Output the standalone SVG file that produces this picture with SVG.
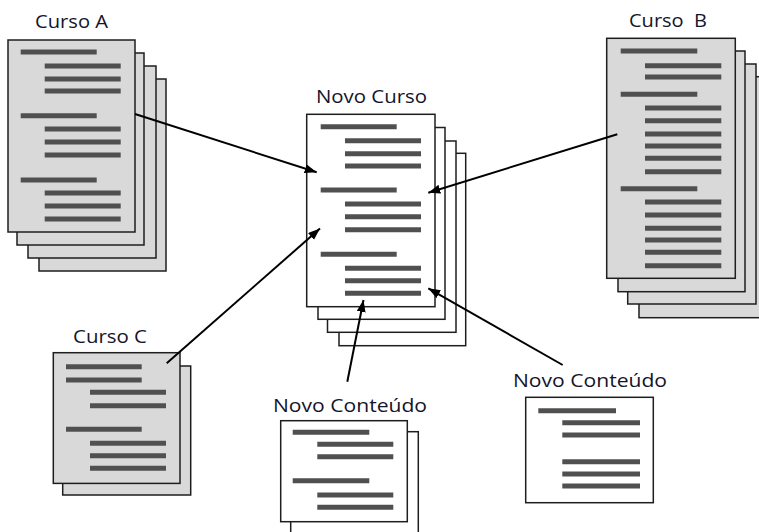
<svg xmlns="http://www.w3.org/2000/svg" width="759" height="532" viewBox="0 0 759 532">
  <style>
    .pg { fill: #d9d9d9; stroke: #1e1e1e; stroke-width: 1.5; }
    .pw { fill: #ffffff; stroke: #1e1e1e; stroke-width: 1.5; }
    .bar { stroke: #505050; stroke-width: 5; }
    .lbl { font-family: "Open Sans", "DejaVu Sans", sans-serif; font-size: 18.5px; fill: #14142a; }
    .arr { stroke: #000; stroke-width: 2; fill: none; marker-end: url(#tip); }
  </style>
  <defs>
    <marker id="tip" markerUnits="userSpaceOnUse" markerWidth="13" markerHeight="10" refX="12" refY="4.5" orient="auto">
      <path d="M0,0 L12,4.5 L0,9 z" fill="#000"/>
    </marker>
  </defs>
  <rect width="759" height="532" fill="#ffffff"/>

  <!-- Curso A: stack of four pages -->
  <g id="curso-a">
    <text class="lbl" x="35" y="28" textLength="73" lengthAdjust="spacingAndGlyphs">Curso A</text>
    <rect class="pg" x="39" y="79" width="127" height="192"/>
    <rect class="pg" x="28" y="66" width="128" height="192"/>
    <rect class="pg" x="17" y="53" width="127" height="192"/>
    <rect class="pg" x="8" y="40" width="127" height="192"/>
    <line class="bar" x1="20.7" y1="52" x2="96.7" y2="52"/>
    <line class="bar" x1="44.7" y1="66" x2="120.7" y2="66"/>
    <line class="bar" x1="44.7" y1="79" x2="120.7" y2="79"/>
    <line class="bar" x1="44.7" y1="91" x2="120.7" y2="91"/>
    <line class="bar" x1="20.7" y1="115.7" x2="96.7" y2="115.7"/>
    <line class="bar" x1="44.7" y1="129" x2="120.7" y2="129"/>
    <line class="bar" x1="44.7" y1="142" x2="120.7" y2="142"/>
    <line class="bar" x1="44.7" y1="155" x2="120.7" y2="155"/>
    <line class="bar" x1="20.7" y1="180" x2="96.7" y2="180" stroke-width="4"/>
    <line class="bar" x1="44.7" y1="193" x2="120.7" y2="193"/>
    <line class="bar" x1="44.7" y1="206" x2="120.7" y2="206"/>
    <line class="bar" x1="44.7" y1="219" x2="120.7" y2="219"/>
  </g>

  <!-- Curso B: stack of four tall pages -->
  <g id="curso-b">
    <text class="lbl" x="629" y="27" xml:space="preserve" textLength="78" lengthAdjust="spacingAndGlyphs">Curso  B</text>
    <rect class="pg" x="639" y="76.7" width="128" height="241"/>
    <rect class="pg" x="627.7" y="64" width="128.3" height="240"/>
    <rect class="pg" x="618" y="51" width="127" height="240.7"/>
    <rect class="pg" x="606.7" y="38.3" width="128.6" height="240"/>
    <line class="bar" x1="620.7" y1="51" x2="697.3" y2="51"/>
    <line class="bar" x1="645" y1="65.7" x2="721.3" y2="65.7"/>
    <line class="bar" x1="645" y1="77" x2="721.3" y2="77"/>
    <line class="bar" x1="620.7" y1="94.3" x2="697.3" y2="94.3"/>
    <line class="bar" x1="645" y1="108" x2="721.3" y2="108"/>
    <line class="bar" x1="645" y1="120.7" x2="721.3" y2="120.7"/>
    <line class="bar" x1="645" y1="134" x2="721.3" y2="134"/>
    <line class="bar" x1="645" y1="146" x2="721.3" y2="146"/>
    <line class="bar" x1="645" y1="158.3" x2="721.3" y2="158.3"/>
    <line class="bar" x1="645" y1="171.7" x2="721.3" y2="171.7"/>
    <line class="bar" x1="620.7" y1="188.7" x2="697.3" y2="188.7"/>
    <line class="bar" x1="645" y1="202" x2="721.3" y2="202"/>
    <line class="bar" x1="645" y1="215" x2="721.3" y2="215"/>
    <line class="bar" x1="645" y1="228.3" x2="721.3" y2="228.3"/>
    <line class="bar" x1="645" y1="240" x2="721.3" y2="240"/>
    <line class="bar" x1="645" y1="252.3" x2="721.3" y2="252.3"/>
    <line class="bar" x1="645" y1="265.7" x2="721.3" y2="265.7"/>
  </g>

  <!-- Novo Curso: stack of four white pages -->
  <g id="novo-curso">
    <text class="lbl" x="316" y="103" textLength="111" lengthAdjust="spacingAndGlyphs">Novo Curso</text>
    <rect class="pw" x="339" y="153.3" width="126.7" height="192.4"/>
    <rect class="pw" x="327.5" y="141" width="128.5" height="191.3"/>
    <rect class="pw" x="318" y="127.5" width="127" height="191.8"/>
    <rect class="pw" x="306.7" y="114.3" width="128.3" height="192.4"/>
    <line class="bar" x1="320.7" y1="126.7" x2="396.7" y2="126.7"/>
    <line class="bar" x1="345" y1="140.7" x2="421" y2="140.7"/>
    <line class="bar" x1="345" y1="153.7" x2="421" y2="153.7"/>
    <line class="bar" x1="345" y1="166" x2="421" y2="166"/>
    <line class="bar" x1="320.7" y1="190" x2="396.7" y2="190"/>
    <line class="bar" x1="345" y1="204" x2="421" y2="204"/>
    <line class="bar" x1="345" y1="216.7" x2="421" y2="216.7"/>
    <line class="bar" x1="345" y1="229.7" x2="421" y2="229.7"/>
    <line class="bar" x1="320.7" y1="254.3" x2="396.7" y2="254.3" stroke-width="4"/>
    <line class="bar" x1="345" y1="268.3" x2="421" y2="268.3"/>
    <line class="bar" x1="345" y1="280.7" x2="421" y2="280.7"/>
    <line class="bar" x1="345" y1="293.3" x2="421" y2="293.3"/>
  </g>

  <!-- Curso C: two pages -->
  <g id="curso-c">
    <text class="lbl" x="73" y="343" textLength="74" lengthAdjust="spacingAndGlyphs">Curso C</text>
    <rect class="pg" x="62.7" y="366" width="128" height="129"/>
    <rect class="pg" x="53.3" y="352.7" width="126.7" height="130.7"/>
    <line class="bar" x1="66" y1="366.7" x2="141.7" y2="366.7"/>
    <line class="bar" x1="66" y1="380" x2="141.7" y2="380"/>
    <line class="bar" x1="90" y1="392.3" x2="166" y2="392.3"/>
    <line class="bar" x1="90" y1="405.7" x2="166" y2="405.7"/>
    <line class="bar" x1="66" y1="429.3" x2="141.7" y2="429.3"/>
    <line class="bar" x1="90" y1="443.3" x2="166" y2="443.3"/>
    <line class="bar" x1="90" y1="455.7" x2="166" y2="455.7"/>
    <line class="bar" x1="90" y1="468.3" x2="166" y2="468.3"/>
  </g>

  <!-- Novo Conteúdo (bottom): two pages -->
  <g id="novo-conteudo-1">
    <text class="lbl" x="273" y="412" textLength="154" lengthAdjust="spacingAndGlyphs">Novo Conteúdo</text>
    <rect class="pw" x="290.7" y="431.7" width="127.6" height="120"/>
    <rect class="pw" x="280.7" y="420.7" width="126.6" height="101"/>
    <line class="bar" x1="292.7" y1="432.3" x2="369.3" y2="432.3"/>
    <line class="bar" x1="317.3" y1="444.3" x2="393.3" y2="444.3"/>
    <line class="bar" x1="317.3" y1="456.7" x2="393.3" y2="456.7"/>
    <line class="bar" x1="292.7" y1="480.7" x2="369.3" y2="480.7"/>
    <line class="bar" x1="317.3" y1="495" x2="393.3" y2="495"/>
    <line class="bar" x1="317.3" y1="507.3" x2="393.3" y2="507.3"/>
  </g>

  <!-- Novo Conteúdo (right): single page -->
  <g id="novo-conteudo-2">
    <text class="lbl" x="513" y="387" textLength="154" lengthAdjust="spacingAndGlyphs">Novo Conteúdo</text>
    <rect class="pw" x="525.7" y="397.3" width="127.6" height="105.4"/>
    <line class="bar" x1="538.3" y1="410.7" x2="616" y2="410.7" stroke-width="4"/>
    <line class="bar" x1="562.3" y1="422.7" x2="640" y2="422.7"/>
    <line class="bar" x1="562.3" y1="435" x2="640" y2="435"/>
    <line class="bar" x1="562.3" y1="461.7" x2="640" y2="461.7"/>
    <line class="bar" x1="562.3" y1="474" x2="640" y2="474"/>
    <line class="bar" x1="562.3" y1="486" x2="640" y2="486"/>
  </g>

  <!-- connectors into Novo Curso -->
  <g id="connectors">
    <line class="arr" x1="135" y1="114" x2="316.7" y2="172.3"/>
    <line class="arr" x1="617.3" y1="134.3" x2="428.3" y2="192.7"/>
    <line class="arr" x1="166.7" y1="363.3" x2="320" y2="228.5"/>
    <line class="arr" x1="562.7" y1="365" x2="428.3" y2="288.3"/>
    <line class="arr" x1="347.3" y1="381.7" x2="363.5" y2="300"/>
  </g>
</svg>
